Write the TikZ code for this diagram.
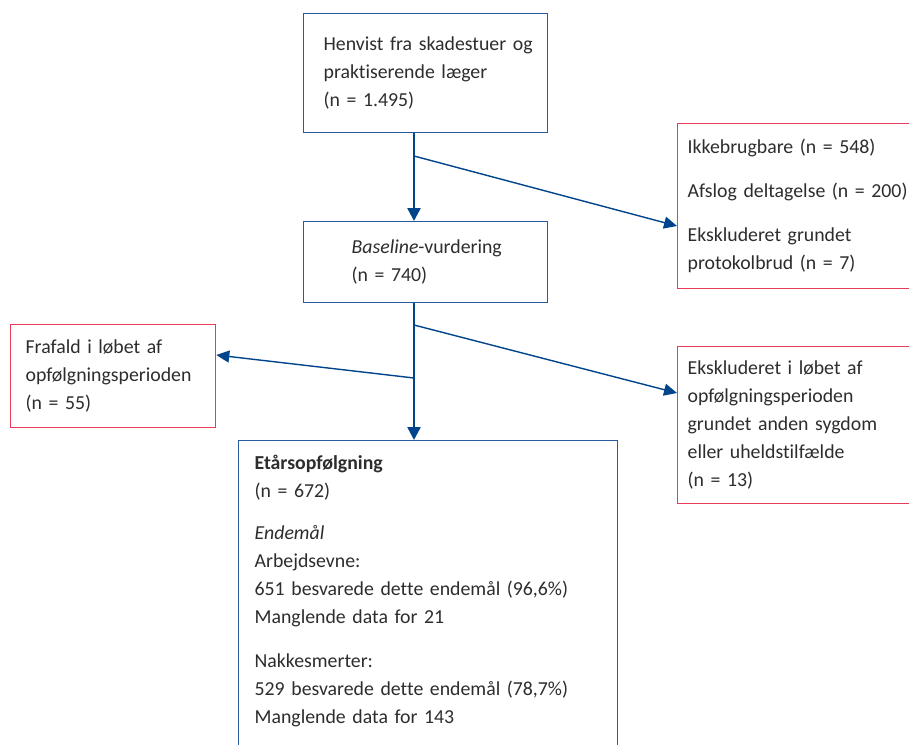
\documentclass[tikz,border=0pt]{standalone}
\usepackage{fontspec}
\setmainfont{Carlito}[Ligatures=CommonOff]
\usetikzlibrary{arrows.meta,calc}
\definecolor{bl}{RGB}{0,68,140}
\definecolor{bbox}{RGB}{40,90,158}
\definecolor{rd}{RGB}{232,60,90}
\definecolor{tx}{RGB}{45,45,45}
\newcommand\fs{\fontsize{19.8}{28}\selectfont}
\newcommand\txl[1]{\mbox{#1}}
\begin{document}
\begin{tikzpicture}[x=1pt,y=-1pt,
  box/.style={draw=bbox,line width=1.3pt,anchor=north west,align=left,text=tx,font=\fs,inner ysep=0pt},
  rbox/.style={box,draw=rd},
  flow/.style={draw=bl,line width=2.4pt,-{Triangle[length=13pt,width=13pt]}},
  side/.style={draw=bl,line width=1.4pt,-{Triangle[length=13pt,width=12pt]}}]
\useasboundingbox[fill=white] (0,0) rectangle (909,744);
\node[box,minimum width=244pt,minimum height=119pt,inner xsep=20pt,text width=204pt] (top) at (303,13)
  {\txl{Henvist fra skadestuer og}\\\txl{praktiserende læger}\\\txl{(n = 1.495)}};
\node[box,minimum width=244pt,minimum height=81pt,inner xsep=48pt,text width=148pt] (base) at (303,221)
  {\txl{\textit{Baseline}-vurdering}\\\txl{(n = 740)}};
\node[rbox,minimum width=240pt,minimum height=165pt,inner xsep=10pt,text width=220pt] (excl1) at (677,123)
  {\txl{Ikkebrugbare (n = 548)}\\[16pt]\txl{Afslog deltagelse (n = 200)}\\[16pt]\txl{Ekskluderet grundet}\\\txl{protokolbrud (n = 7)}};
\node[rbox,minimum width=205pt,minimum height=103pt,inner xsep=15pt,text width=175pt] (drop) at (10,324)
  {\txl{Frafald i løbet af}\\\txl{opfølgningsperioden}\\\txl{(n = 55)}};
\node[rbox,minimum width=240pt,minimum height=157pt,inner xsep=10pt,text width=220pt] (excl2) at (677,346)
  {\txl{Ekskluderet i løbet af}\\\txl{opfølgningsperioden}\\\txl{grundet anden sygdom}\\\txl{eller uheldstilfælde}\\\txl{(n = 13)}};
\node[box,minimum width=379pt,inner xsep=16pt,text width=347pt,inner ysep=14pt] (final) at (238,440)
  {\txl{\textbf{Etårsopfølgning}}\\\txl{(n = 672)}\\[14pt]\txl{\textit{Endemål}}\\\txl{Arbejdsevne:}\\\txl{651 besvarede dette endemål (96,6\%)}\\\txl{Manglende data for 21}\\[16pt]\txl{Nakkesmerter:}\\\txl{529 besvarede dette endemål (78,7\%)}\\\txl{Manglende data for 143}\par\vspace{60pt}};
\coordinate (sp) at (414,0);
\coordinate (b1) at (414,156);
\coordinate (b2) at (414,325);
\coordinate (b3) at (414,378);
\draw[flow] (top.south -| sp) -- (base.north -| sp);
\draw[flow] (base.south -| sp) -- (final.north -| sp);
\draw[side] (b1) -- ($(excl1.north west)+(0,103)$);
\draw[side] (b2) -- ($(excl2.north west)+(0,47)$);
\draw[side] (b3) -- ($(drop.north east)+(0,31)$);
\end{tikzpicture}
\end{document}
